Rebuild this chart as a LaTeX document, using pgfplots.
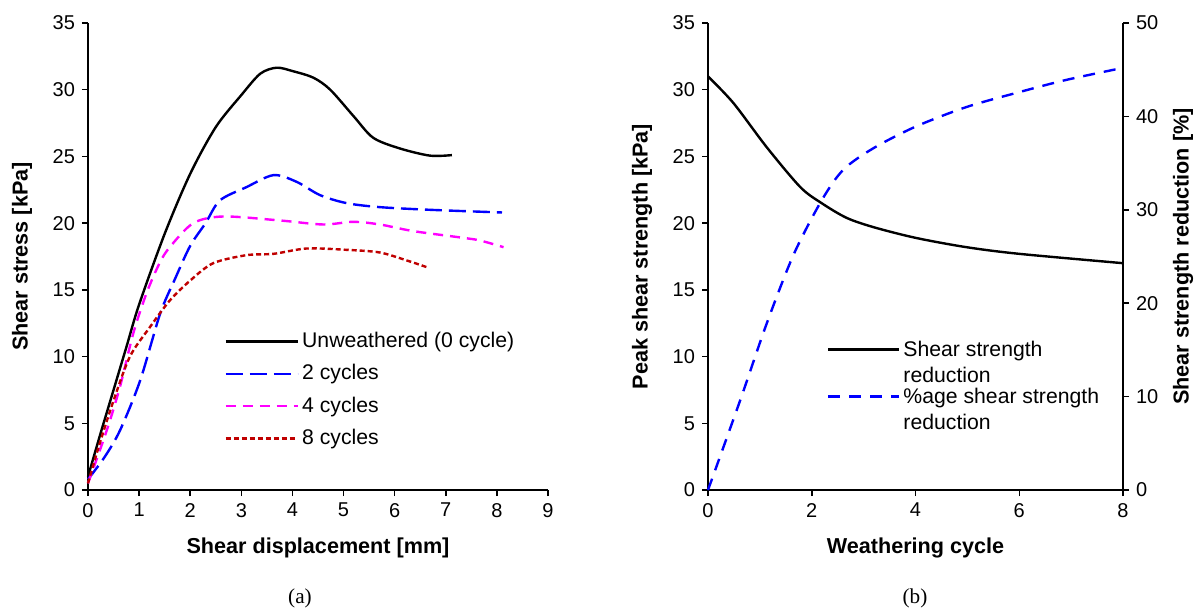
\documentclass[border=0pt]{standalone}
\usepackage{fontspec}
\setmainfont{Liberation Sans}
\newfontfamily\timesfont{Liberation Serif}
\usepackage{pgfplots}
\pgfplotsset{compat=1.18}
\definecolor{darkred}{RGB}{192,0,0}
\definecolor{mag}{RGB}{255,0,255}
\definecolor{pureblue}{RGB}{0,0,255}
\begin{document}
\fontsize{10}{12}\selectfont
\begin{tikzpicture}
\useasboundingbox (0,0) rectangle (599.5pt,306pt);
\pgfplotsset{
 common/.style={
  scale only axis, height=233.5pt,
  axis line style={line width=0.75pt},
  every tick/.style={line width=0.75pt, black},
  major tick length=3pt,
  tick align=outside,
  /pgf/number format/assume math mode=true,
  ticklabel style={font=\fontsize{10}{12}\selectfont},
  label style={font=\bfseries\fontsize{10.8}{13}\selectfont},
  xlabel style={at={(axis description cs:0.5,-0.124)}, anchor=center},
  clip=false,
 },
 leg/.style={
  legend style={draw=none, fill=none, inner sep=0pt, row sep=3.2pt,
    font=\fontsize{10.6}{12.7}\selectfont,
    nodes={inner sep=1.5pt, text height=8pt, text depth=2pt}},
  legend cell align=left,
  legend image code/.code={\draw[##1] (0pt,0pt) -- (34pt,0pt); \path (0pt,0pt) -- (36pt,0pt);},
 }
}
% ---------------- (a)
\begin{axis}[common, leg, at={(44pt,61pt)}, anchor=south west, width=230pt,
  xmin=0, xmax=9, xtick={0,...,9}, ymin=0, ymax=35, ytick={0,5,...,35},
  axis x line*=bottom, axis y line*=left,
  xlabel={Shear displacement [mm]}, ylabel={Shear stress [kPa]},
  ylabel style={at={(axis description cs:-0.1435,0.5)}, anchor=center},
  legend style={at={(0.2965,0.347)}, anchor=north west},
]
\addplot[black, line width=1.2pt, smooth, tension=0.5] coordinates {
(0,1.0) (0.25,4.3) (0.5,7.5) (0.75,10.7) (1.0,13.9) (1.5,19.2) (2.0,23.7) (2.5,27.2) (3.0,29.6) (3.37,31.2) (3.69,31.65) (4.0,31.4) (4.41,30.9) (4.74,30.0) (5.2,28.0) (5.58,26.4) (6.1,25.6) (6.69,25.06) (7.12,25.1)};
\addlegendentry{Unweathered (0 cycle)}
\addplot[pureblue, line width=1.2pt, dash pattern=on 8.5pt off 3.5pt, smooth, tension=0.5] coordinates {
(0,0.8) (0.33,2.5) (0.63,4.5) (1.02,8.2) (1.41,13.2) (1.7,15.8) (2.0,18.3) (2.3,20.0) (2.58,21.7) (3.1,22.7) (3.63,23.6) (4.08,23.1) (4.54,22.1) (5.06,21.5) (5.71,21.2) (6.69,21.0) (8.1,20.8)};
\addlegendentry{2 cycles}
\addplot[mag, line width=1.2pt, dash pattern=on 5pt off 3.5pt, smooth, tension=0.5] coordinates {
(0,0.5) (0.37,4.5) (0.63,7.8) (0.89,11.8) (1.15,14.8) (1.4,17.0) (1.6,18.2) (2.06,20.0) (2.65,20.5) (3.76,20.2) (4.6,19.9) (5.19,20.1) (5.71,19.9) (6.37,19.4) (7.34,18.9) (7.67,18.7) (8.13,18.2)};
\addlegendentry{4 cycles}
\addplot[darkred, line width=1.2pt, dash pattern=on 2.5pt off 1.5pt, smooth, tension=0.5] coordinates {
(0,0.5) (0.23,3.5) (0.5,6.7) (0.82,10.0) (1.21,12.2) (1.6,14.2) (2.0,15.7) (2.45,17.0) (3.1,17.6) (3.63,17.7) (4.28,18.1) (5.06,18.0) (5.71,17.8) (6.24,17.2) (6.63,16.7)};
\addlegendentry{8 cycles}
\end{axis}
% ---------------- (b) left y
\begin{axis}[common, at={(354pt,61pt)}, anchor=south west, width=207.5pt,
  xmin=0, xmax=8, xtick={0,2,...,8}, ymin=0, ymax=35, ytick={0,5,...,35},
  axis x line*=bottom, axis y line*=left,
  xlabel={Weathering cycle}, ylabel={Peak shear strength [kPa]},
  ylabel style={at={(axis description cs:-0.159,0.5)}, anchor=center},
]
\addplot[black, line width=1.2pt, smooth, tension=0.5] coordinates {
(0,31.0) (0.49,29.0) (1.13,25.7) (1.78,22.7) (2.19,21.5) (2.67,20.4) (3.19,19.7) (4.0,18.9) (4.98,18.2) (6.0,17.7) (8.0,17.0)};
\end{axis}
% ---------------- (b) right y
\begin{axis}[common, leg, at={(354pt,61pt)}, anchor=south west, width=207.5pt,
  xmin=0, xmax=8, ymin=0, ymax=50, ytick={0,10,...,50},
  axis x line=none, axis y line*=right,
  ylabel={Shear strength reduction [\%]},
  ylabel style={at={(axis description cs:1.1446,0.5)}, anchor=center, rotate=0},
  legend style={at={(0.286,0.325)}, anchor=north west, row sep=0pt, cells={align=left},
    nodes={inner sep=1.5pt, text height=, text depth=}},
  legend image code/.code={\draw[#1] (0pt,6.3pt) -- (34pt,6.3pt); \path (0pt,6.3pt) -- (35.5pt,6.3pt);},
]
\addlegendimage{black, line width=1.2pt}
\addlegendentry{Shear strength\\reduction}
\addplot[pureblue, line width=1.2pt, dash pattern=on 6pt off 4.5pt, smooth, tension=0.5] coordinates {
(0,0) (0.62,9.6) (1.13,17.8) (1.65,25.2) (2.19,31.0) (2.61,34.3) (3.19,36.6) (4.0,38.9) (4.98,41.0) (6.0,42.6) (6.9,43.9) (8.0,45.2)};
\addlegendentry{\%age shear strength\\reduction}
\end{axis}
\node[font=\timesfont\fontsize{10.6}{12}\selectfont] at (150pt,7pt) {(a)};
\node[font=\timesfont\fontsize{10.6}{12}\selectfont] at (457.5pt,7pt) {(b)};
\end{tikzpicture}
\end{document}
